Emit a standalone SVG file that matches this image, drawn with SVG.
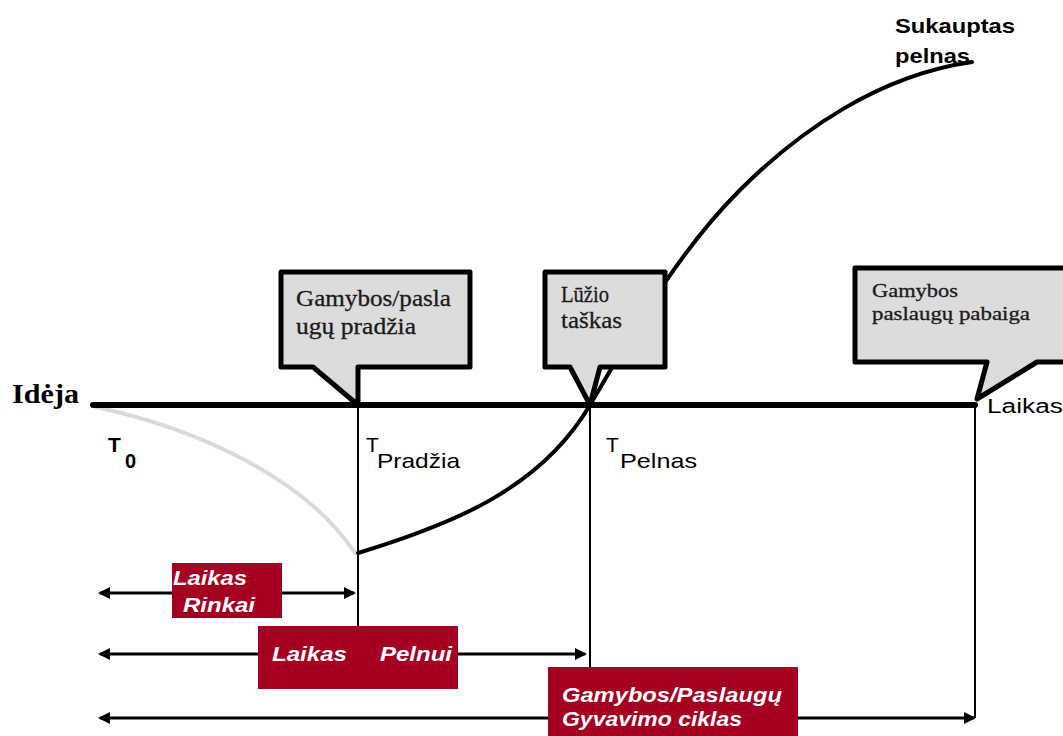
<svg xmlns="http://www.w3.org/2000/svg" width="1063" height="736" viewBox="0 0 1063 736">
  <style>
    .axis { stroke: #000; stroke-width: 6; stroke-linecap: round; fill: none; }
    .vline { stroke: #000; stroke-width: 2; fill: none; }
    .curve { stroke: #000; stroke-width: 4; fill: none; stroke-linecap: round; }
    .loss { stroke: #d9d9d9; stroke-width: 4; fill: none; stroke-linecap: round; }
    .span { stroke: #000; stroke-width: 3; fill: none; marker-start: url(#ah); marker-end: url(#ah); }
    .callout { fill: #dcdcdc; stroke: #000; stroke-width: 5; stroke-linejoin: round; }
    .ctext { font-family: "Liberation Serif", "Times New Roman", serif; fill: #1a1a1a; stroke: #1a1a1a; stroke-width: 0.3; }
    .sans { font-family: "Liberation Sans", Arial, sans-serif; fill: #000; }
    .tag { fill: #a50021; }
    .tagtext { font-family: "Liberation Sans", Arial, sans-serif; font-style: italic; font-weight: bold; fill: #fff; font-size: 20px; }
  </style>
  <defs>
    <marker id="ah" viewBox="0 0 12 12" refX="10" refY="6" markerWidth="12" markerHeight="12" markerUnits="userSpaceOnUse" orient="auto-start-reverse">
      <path d="M0,0 L12,6 L0,12 Z" fill="#000"/>
    </marker>
  </defs>

  <rect width="1063" height="736" fill="#fff"/>

  <g id="connectors">
    <!-- investment phase, drawn beneath the axis -->
    <path class="loss" d="M96,407 C180,425 300,470 355,553"/>
    <!-- time axis -->
    <line class="axis" x1="93" y1="405" x2="975" y2="405"/>
    <!-- milestone drop lines -->
    <line class="vline" x1="358" y1="405" x2="358" y2="627"/>
    <line class="vline" x1="590" y1="405" x2="590" y2="668"/>
    <line class="vline" x1="975" y1="405" x2="975" y2="718"/>
    <!-- accumulated profit -->
    <path class="curve" d="M358,553 C450,525 540,490 590,405 C640,320 680,250 740,190 C800,130 880,75 972,62"/>
    <!-- duration spans -->
    <line class="span" x1="100" y1="593" x2="354" y2="593"/>
    <line class="span" x1="100" y1="654" x2="585" y2="654"/>
    <line class="span" x1="100" y1="718" x2="974" y2="718"/>
  </g>

  <g id="start-callout">
    <path class="callout" d="M281,272 H470 V367 H358 V405 L313,367 H281 Z"/>
    <text class="ctext" font-size="23" x="296" y="306" textLength="155" lengthAdjust="spacingAndGlyphs">Gamybos/pasla</text>
    <text class="ctext" font-size="23" x="296" y="334" textLength="120" lengthAdjust="spacingAndGlyphs">ugų pradžia</text>
  </g>

  <g id="breakeven-callout">
    <path class="callout" d="M545,272 H665 V367 H600 L590,405 L570,367 H545 Z"/>
    <text class="ctext" font-size="23" x="561" y="302" textLength="48" lengthAdjust="spacingAndGlyphs">Lūžio</text>
    <text class="ctext" font-size="23" x="561" y="328" textLength="61" lengthAdjust="spacingAndGlyphs">taškas</text>
  </g>

  <g id="end-callout">
    <path class="callout" d="M855,268 H1070 V362 H1037 L977,399 L987,362 H855 Z"/>
    <text class="ctext" font-size="19" x="872" y="297" textLength="86" lengthAdjust="spacingAndGlyphs">Gamybos</text>
    <text class="ctext" font-size="19" x="872" y="320" textLength="158" lengthAdjust="spacingAndGlyphs">paslaugų pabaiga</text>
  </g>

  <g id="labels">
    <text font-family="Liberation Serif, serif" font-weight="bold" font-size="27" x="12" y="403" textLength="67" lengthAdjust="spacingAndGlyphs">Idėja</text>
    <text class="sans" font-size="20" x="987" y="413" textLength="76" lengthAdjust="spacingAndGlyphs">Laikas</text>
    <text class="sans" font-weight="bold" font-size="21" x="108" y="452">T</text>
    <text class="sans" font-weight="bold" font-size="20" x="125" y="468">0</text>
    <text class="sans" font-size="21" x="366" y="452">T</text>
    <text class="sans" font-size="21" x="377" y="468" textLength="83" lengthAdjust="spacingAndGlyphs">Pradžia</text>
    <text class="sans" font-size="21" x="606" y="452">T</text>
    <text class="sans" font-size="21" x="620" y="468" textLength="77" lengthAdjust="spacingAndGlyphs">Pelnas</text>
    <text class="sans" font-weight="bold" font-size="21" fill="#333" x="895" y="33" textLength="120" lengthAdjust="spacingAndGlyphs">Sukauptas</text>
    <text class="sans" font-weight="bold" font-size="21" fill="#333" x="895" y="63" textLength="75" lengthAdjust="spacingAndGlyphs">pelnas</text>
  </g>

  <g id="market-time">
    <rect class="tag" x="172" y="563" width="110" height="55"/>
    <text class="tagtext" x="173" y="585" textLength="74" lengthAdjust="spacingAndGlyphs">Laikas</text>
    <text class="tagtext" x="183" y="612" textLength="72" lengthAdjust="spacingAndGlyphs">Rinkai</text>
  </g>

  <g id="profit-time">
    <rect class="tag" x="258" y="626" width="200" height="63"/>
    <text class="tagtext" x="272" y="661" textLength="75" lengthAdjust="spacingAndGlyphs">Laikas</text>
    <text class="tagtext" x="380" y="661" textLength="72" lengthAdjust="spacingAndGlyphs">Pelnui</text>
  </g>

  <g id="lifecycle">
    <rect class="tag" x="548" y="667" width="250" height="75"/>
    <text class="tagtext" x="562" y="702" textLength="220" lengthAdjust="spacingAndGlyphs">Gamybos/Paslaugų</text>
    <text class="tagtext" x="562" y="726" textLength="180" lengthAdjust="spacingAndGlyphs">Gyvavimo ciklas</text>
  </g>
</svg>
